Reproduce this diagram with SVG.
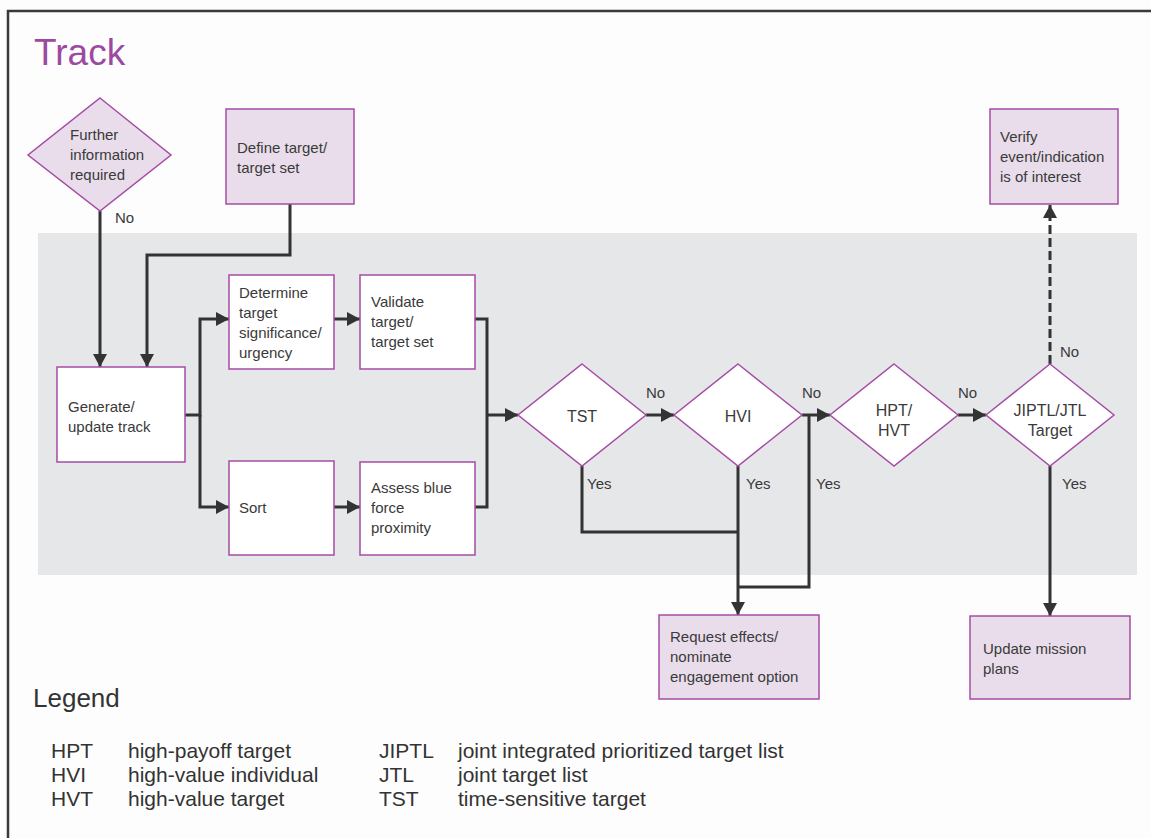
<svg xmlns="http://www.w3.org/2000/svg" width="1151" height="838" viewBox="0 0 1151 838">
<style>
.t{font-family:"Liberation Sans",Arial,sans-serif;font-size:15px;fill:#3a3a3a}
.c{text-anchor:middle;font-size:16px}
.lg{font-family:"Liberation Sans",Arial,sans-serif;font-size:21px;fill:#333}
.bw{fill:#fff;stroke:#a54ca5;stroke-width:1.5}
.bp{fill:#e9ddeb;stroke:#a54ca5;stroke-width:1.5}
.ln{fill:none;stroke:#333;stroke-width:3}
.dash{stroke-dasharray:9 4}
</style>
<defs>
<marker id="ah" markerUnits="userSpaceOnUse" markerWidth="14" markerHeight="14" refX="13" refY="7" orient="auto">
<path d="M0,0 L13,7 L0,14 z" fill="#333"/>
</marker>
</defs>
<rect x="0" y="0" width="1151" height="838" fill="#fdfdfd"/>
<path d="M8,838 V11 H1151" fill="none" stroke="#3a3a3a" stroke-width="2.5"/>
<text x="34" y="65" font-family="Liberation Sans,Arial,sans-serif" font-size="37" fill="#9b4a9f">Track</text>
<rect x="38" y="233" width="1099" height="342" fill="#e6e7e9"/>

<g id="connectors">
<path class="ln" d="M100,211 V367" marker-end="url(#ah)"/>
<path class="ln" d="M290,204 V255 H147 V367" marker-end="url(#ah)"/>
<path class="ln" d="M185,415 H200 V319 H229" marker-end="url(#ah)"/>
<path class="ln" d="M200,415 V507 H229" marker-end="url(#ah)"/>
<path class="ln" d="M334,319 H360" marker-end="url(#ah)"/>
<path class="ln" d="M334,507 H360" marker-end="url(#ah)"/>
<path class="ln" d="M475,319 H487 V507 H475"/>
<path class="ln" d="M487,415 H518" marker-end="url(#ah)"/>
<path class="ln" d="M646,415 H674" marker-end="url(#ah)"/>
<path class="ln" d="M802,415 H830" marker-end="url(#ah)"/>
<path class="ln" d="M809,415 V587 H738"/>
<path class="ln" d="M582,466 V532 H738"/>
<path class="ln" d="M738,466 V615" marker-end="url(#ah)"/>
<path class="ln" d="M958,415 H986" marker-end="url(#ah)"/>
<path class="ln dash" d="M1050,364 V205" marker-end="url(#ah)"/>
<path class="ln" d="M1050,466 V616" marker-end="url(#ah)"/>
<text class="t" x="115" y="223">No</text>
<text class="t" x="646" y="398">No</text>
<text class="t" x="802" y="398">No</text>
<text class="t" x="958" y="398">No</text>
<text class="t" x="1060" y="357">No</text>
<text class="t" x="587" y="489">Yes</text>
<text class="t" x="746" y="489">Yes</text>
<text class="t" x="816" y="489">Yes</text>
<text class="t" x="1062" y="489">Yes</text>
</g>

<g id="further">
<polygon class="bp" points="100,98 171,155 100,211 28,155"/>
<text class="t" x="70" y="140">Further</text>
<text class="t" x="70" y="160">information</text>
<text class="t" x="70" y="180">required</text>
</g>
<g id="define">
<rect class="bp" x="226" y="109" width="128" height="95"/>
<text class="t" x="237" y="153">Define target/</text>
<text class="t" x="237" y="173">target set</text>
</g>
<g id="generate">
<rect class="bw" x="57" y="367" width="128" height="95"/>
<text class="t" x="68" y="412">Generate/</text>
<text class="t" x="68" y="432">update track</text>
</g>
<g id="determine">
<rect class="bw" x="229" y="275" width="105" height="94"/>
<text class="t" x="239" y="298">Determine</text>
<text class="t" x="239" y="318">target</text>
<text class="t" x="239" y="338">significance/</text>
<text class="t" x="239" y="358">urgency</text>
</g>
<g id="validate">
<rect class="bw" x="360" y="275" width="115" height="94"/>
<text class="t" x="371" y="307">Validate</text>
<text class="t" x="371" y="327">target/</text>
<text class="t" x="371" y="347">target set</text>
</g>
<g id="sort">
<rect class="bw" x="229" y="461" width="105" height="94"/>
<text class="t" x="239" y="513">Sort</text>
</g>
<g id="assess">
<rect class="bw" x="360" y="462" width="115" height="93"/>
<text class="t" x="371" y="493">Assess blue</text>
<text class="t" x="371" y="513">force</text>
<text class="t" x="371" y="533">proximity</text>
</g>
<g id="tst">
<polygon class="bw" points="582,364 646,415 582,466 518,415"/>
<text class="t c" x="582" y="422">TST</text>
</g>
<g id="hvi">
<polygon class="bw" points="738,364 802,415 738,466 674,415"/>
<text class="t c" x="738" y="422">HVI</text>
</g>
<g id="hpt">
<polygon class="bw" points="894,364 958,415 894,466 830,415"/>
<text class="t c" x="894" y="416">HPT/</text>
<text class="t c" x="894" y="436">HVT</text>
</g>
<g id="jiptl">
<polygon class="bw" points="1050,364 1114,415 1050,466 986,415"/>
<text class="t c" x="1050" y="416">JIPTL/JTL</text>
<text class="t c" x="1050" y="436">Target</text>
</g>
<g id="verify">
<rect class="bp" x="990" y="109" width="128" height="95"/>
<text class="t" x="1000" y="142">Verify</text>
<text class="t" x="1000" y="162">event/indication</text>
<text class="t" x="1000" y="182">is of interest</text>
</g>
<g id="request">
<rect class="bp" x="659" y="615" width="160" height="84"/>
<text class="t" x="670" y="642">Request effects/</text>
<text class="t" x="670" y="662">nominate</text>
<text class="t" x="670" y="682">engagement option</text>
</g>
<g id="update">
<rect class="bp" x="970" y="616" width="160" height="83"/>
<text class="t" x="983" y="654">Update mission</text>
<text class="t" x="983" y="674">plans</text>
</g>
<g id="legend">
<text class="lg" x="33" y="707" style="font-size:26px">Legend</text>
<text class="lg" x="51" y="758">HPT</text>
<text class="lg" x="51" y="782">HVI</text>
<text class="lg" x="51" y="806">HVT</text>
<text class="lg" x="128" y="758">high-payoff target</text>
<text class="lg" x="128" y="782">high-value individual</text>
<text class="lg" x="128" y="806">high-value target</text>
<text class="lg" x="379" y="758">JIPTL</text>
<text class="lg" x="379" y="782">JTL</text>
<text class="lg" x="379" y="806">TST</text>
<text class="lg" x="458" y="758">joint integrated prioritized target list</text>
<text class="lg" x="458" y="782">joint target list</text>
<text class="lg" x="458" y="806">time-sensitive target</text>
</g>
</svg>
